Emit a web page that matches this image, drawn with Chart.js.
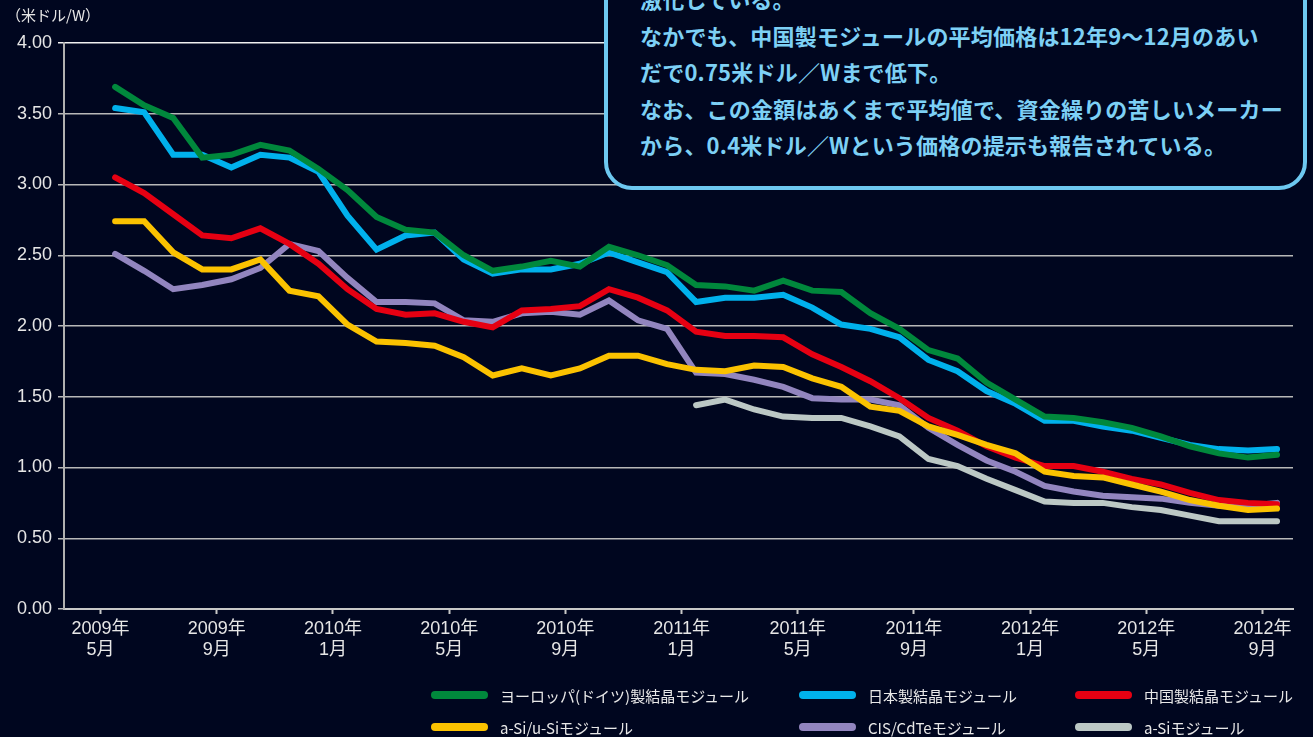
<!DOCTYPE html>
<html lang="ja">
<head>
<meta charset="utf-8">
<title>モジュール価格の推移</title>
<script src="https://cdn.jsdelivr.net/npm/chart.js@4.4.0/dist/chart.umd.min.js"></script>
<style>
  html, body { margin: 0; padding: 0; background: #00061f; }
  #wrap { position: relative; width: 1313px; height: 737px; overflow: hidden; background: #00061f;
          font-family: "Liberation Sans", "Noto Sans CJK JP", sans-serif; }
  #chart { position: absolute; left: 0; top: 0; }
  #unit { position: absolute; left: 6px; top: 4px; color: #e6e6e6; font-size: 15px;
          font-family: "Noto Sans CJK JP", sans-serif; }
  #note { position: absolute; left: 604px; top: -80px; width: 703px; height: 270px; box-sizing: border-box;
          border: 4px solid #6dc8f0; border-radius: 28px; background: #00061f;
          padding: 56px 0 0 32px; color: #7dd0f5; font-family: "Noto Sans CJK JP", sans-serif;
          font-weight: bold; font-size: 22px; line-height: 36.5px; letter-spacing: 0.2px; white-space: nowrap; }
  .lg { position: absolute; height: 20px; display: flex; align-items: center; color: #e8e8e8;
        font-family: "Noto Sans CJK JP", sans-serif; font-size: 15px; white-space: nowrap; }
  .lg span.sw { display: inline-block; width: 57px; height: 8px; border-radius: 4px; margin-right: 12px; }
</style>
</head>
<body>
<div id="wrap">
  <canvas id="chart" width="1313" height="737"></canvas>
  <div id="unit">（米ドル/W）</div>
  <div id="note">激化している。<br>なかでも、中国製モジュールの平均価格は12年9〜12月のあい<br>だで0.75米ドル／Wまで低下。<br>なお、この金額はあくまで平均値で、資金繰りの苦しいメーカー<br>から、0.4米ドル／Wという価格の提示も報告されている。</div>
  <div id="legend"></div>
</div>
<script>
// months (one point per month)
const months = [
  '2009-05','2009-06','2009-07','2009-08','2009-09','2009-10','2009-11','2009-12',
  '2010-01','2010-02','2010-03','2010-04','2010-05','2010-06','2010-07','2010-08',
  '2010-09','2010-10','2010-11','2010-12','2011-01','2011-02','2011-03','2011-04',
  '2011-05','2011-06','2011-07','2011-08','2011-09','2011-10','2011-11','2011-12',
  '2012-01','2012-02','2012-03','2012-04','2012-05','2012-06','2012-07','2012-08','2012-09'
];

// x axis tick labels
const tickMonthKeys = ['2009-05','2009-09','2010-01','2010-05','2010-09','2011-01','2011-05','2011-09','2012-01','2012-05','2012-09'];
const tickYears = ['2009年','2009年','2010年','2010年','2010年','2011年','2011年','2011年','2012年','2012年','2012年'];
const tickMonths = ['5月','9月','1月','5月','9月','1月','5月','9月','1月','5月','9月'];

// series (米ドル/W)
const europe = [3.69,3.56,3.47,3.19,3.21,3.28,3.24,3.11,2.96,2.77,2.68,2.66,2.50,2.39,2.42,2.46,2.42,2.56,2.50,2.43,
  2.29,2.28,2.25,2.32,2.25,2.24,2.09,1.98,1.83,1.77,1.60,1.48,1.36,1.35,1.32,1.28,1.22,1.15,1.10,1.07,1.09];
const japan = [3.54,3.51,3.21,3.21,3.12,3.21,3.19,3.09,2.78,2.54,2.64,2.66,2.47,2.37,2.40,2.40,2.44,2.52,2.45,2.38,
  2.17,2.20,2.20,2.22,2.13,2.01,1.98,1.92,1.76,1.68,1.54,1.45,1.33,1.33,1.29,1.26,1.21,1.16,1.13,1.12,1.13];
const china = [3.05,2.94,2.79,2.64,2.62,2.69,2.58,2.44,2.26,2.12,2.08,2.09,2.03,1.99,2.11,2.12,2.14,2.26,2.20,2.11,
  1.96,1.93,1.93,1.92,1.80,1.71,1.61,1.49,1.35,1.26,1.15,1.07,1.01,1.01,0.97,0.92,0.88,0.82,0.77,0.75,0.74];
const aSiuSi = [2.74,2.74,2.52,2.40,2.40,2.47,2.25,2.21,2.01,1.89,1.88,1.86,1.78,1.65,1.70,1.65,1.70,1.79,1.79,1.73,
  1.69,1.68,1.72,1.71,1.63,1.57,1.43,1.40,1.29,1.23,1.16,1.10,0.97,0.94,0.93,0.88,0.83,0.77,0.73,0.70,0.71];
const cisCdTe = [2.51,2.39,2.26,2.29,2.33,2.41,2.58,2.53,2.34,2.17,2.17,2.16,2.04,2.03,2.09,2.10,2.08,2.18,2.04,1.98,
  1.67,1.66,1.62,1.57,1.49,1.48,1.48,1.44,1.28,1.16,1.05,0.97,0.87,0.83,0.80,0.79,0.78,0.75,0.73,0.73,0.75];
const aSi = [null,null,null,null,null,null,null,null,null,null,null,null,null,null,null,null,null,null,null,null,
  1.44,1.48,1.41,1.36,1.35,1.35,1.29,1.22,1.06,1.01,0.92,0.84,0.76,0.75,0.75,0.72,0.70,0.66,0.62,0.62,0.62];

const seriesNames = ['ヨーロッパ(ドイツ)製結晶モジュール','日本製結晶モジュール','中国製結晶モジュール',
  'a-Si/u-Siモジュール','CIS/CdTeモジュール','a-Siモジュール'];
const seriesData = [europe, japan, china, aSiuSi, cisCdTe, aSi];
const seriesColors = ['#00883c','#00b1ec','#e60012','#fbc200','#9285bf','#bcc8c5'];
// lower number = drawn on top
const seriesOrder = [1, 2, 4, 3, 5, 6];

const datasets = seriesData.map((vals, k) => ({
  label: seriesNames[k],
  data: vals.map((v, i) => ({ x: i, y: v })),
  borderColor: seriesColors[k],
  backgroundColor: seriesColors[k],
  borderWidth: 6,
  borderCapStyle: 'round',
  borderJoinStyle: 'miter',
  pointRadius: 0,
  fill: false,
  tension: 0,
  spanGaps: false,
  order: seriesOrder[k]
}));

const tickValues = tickMonthKeys.map(m => months.indexOf(m) - 0.5);

const gridCol = '#b8b8b8';

new Chart(document.getElementById('chart').getContext('2d'), {
  type: 'line',
  data: { datasets },
  options: {
    responsive: false,
    animation: false,
    devicePixelRatio: 1,
    layout: { padding: { top: 43, right: 20, bottom: 68, left: 0 } },
    plugins: { legend: { display: false }, tooltip: { enabled: false } },
    scales: {
      x: {
        type: 'linear',
        min: -1.76,
        max: 40.55,
        afterBuildTicks: s => { s.ticks = tickValues.map(v => ({ value: v })); },
        afterFit: s => { s.height = 60; },
        ticks: {
          autoSkip: false,
          maxRotation: 0,
          padding: 5,
          color: '#e6e6e6',
          font: { family: '"Liberation Sans", "Noto Sans CJK JP"', size: 18, lineHeight: 1.15 },
          callback: (v, idx) => [tickYears[idx], tickMonths[idx]]
        },
        grid: { drawOnChartArea: false, drawTicks: true, tickLength: 5, tickColor: '#c8c8c8', tickWidth: 2 },
        border: { display: true, color: '#c8c8c8', width: 2 }
      },
      y: {
        min: 0,
        max: 4,
        afterFit: s => { s.width = 64; },
        ticks: {
          stepSize: 0.5,
          padding: 6,
          color: '#e6e6e6',
          font: { family: '"Liberation Sans"', size: 18 },
          callback: v => v.toFixed(2)
        },
        grid: {
          color: ctx => ctx.tick && ctx.tick.value === 4 ? '#f0f0f0' : gridCol,
          lineWidth: 1.5,
          tickLength: 6,
          drawTicks: true
        },
        border: { display: true, color: '#b0b0b0', width: 2 }
      }
    }
  }
});

// legend: 2 rows x 3 columns
const legendPos = [[431, 695], [799, 695], [1075, 695], [431, 727], [799, 727], [1075, 727]];
const legendEl = document.getElementById('legend');
seriesNames.forEach((name, k) => {
  const d = document.createElement('div');
  d.className = 'lg';
  d.style.left = legendPos[k][0] + 'px';
  d.style.top = (legendPos[k][1] - 10) + 'px';
  d.innerHTML = '<span class="sw" style="background:' + seriesColors[k] + '"></span>' + name;
  legendEl.appendChild(d);
});
</script>
</body>
</html>
